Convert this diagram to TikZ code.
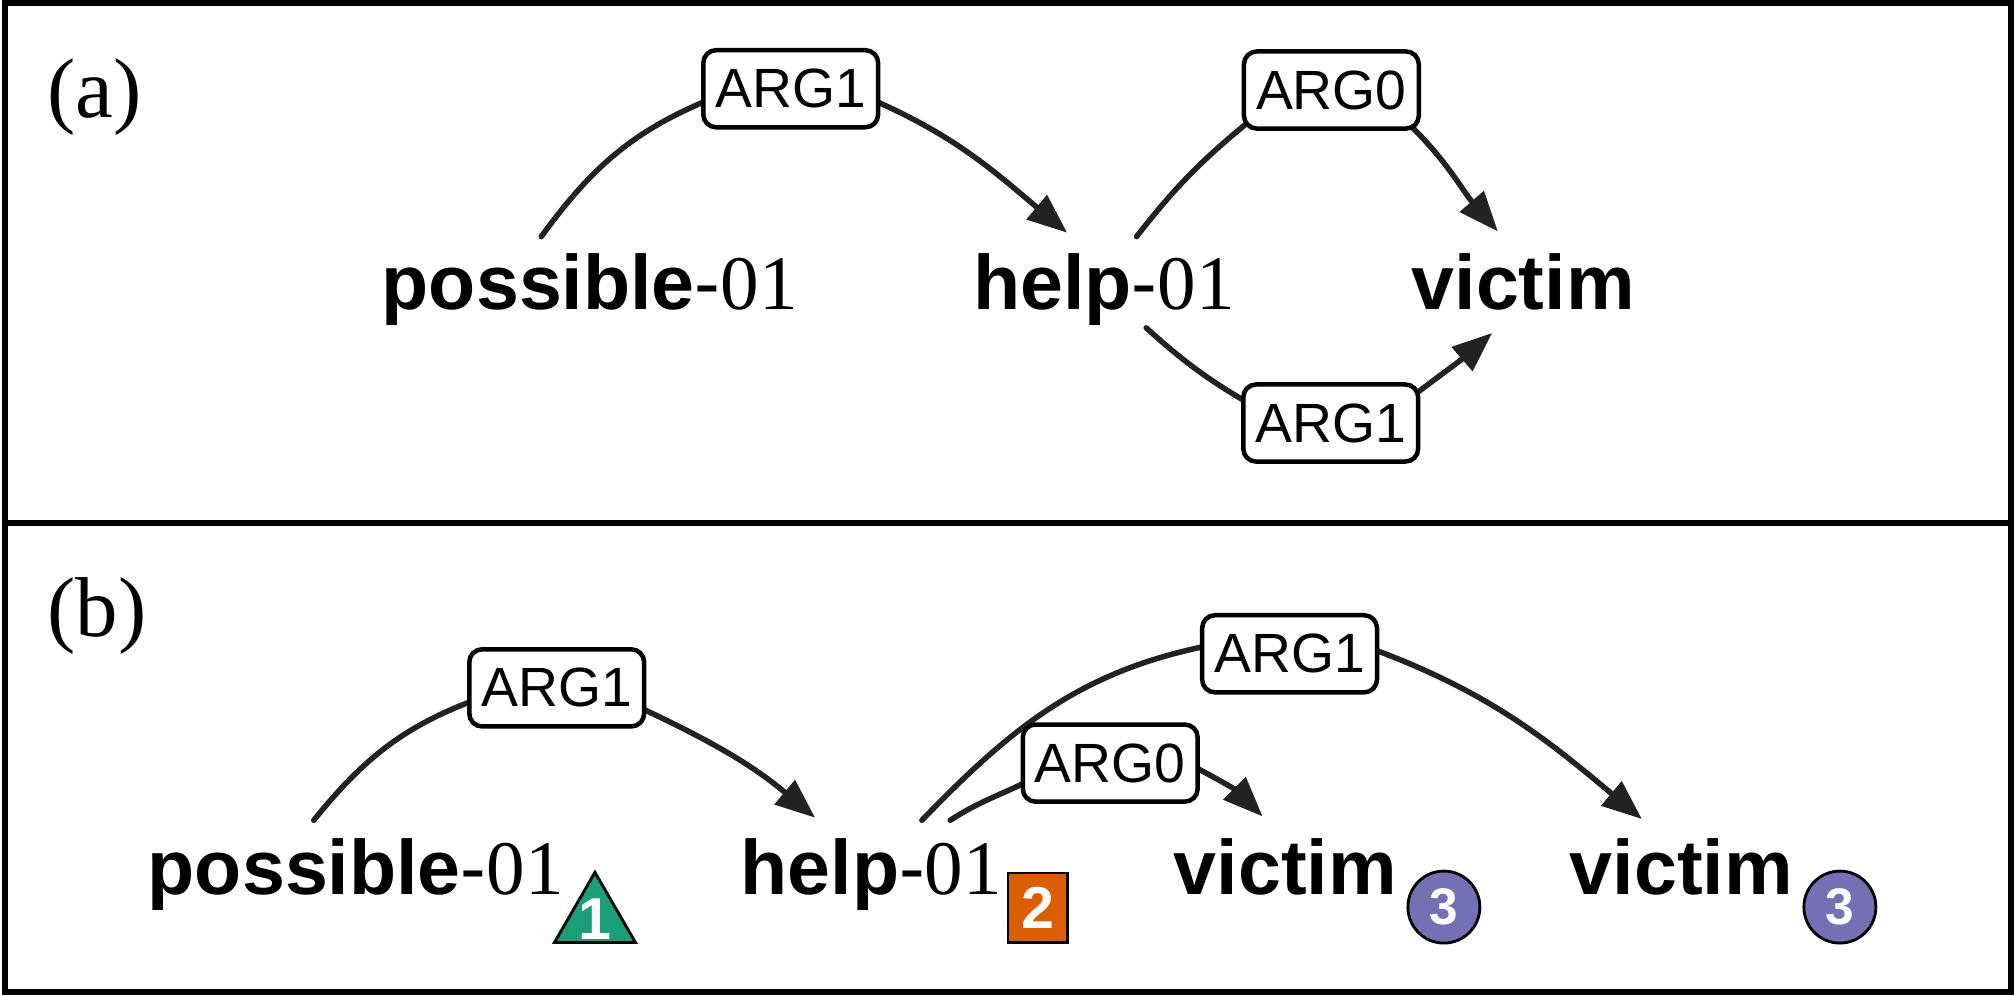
\documentclass[tikz,border=0pt]{standalone}
\usepackage{fontspec}
\setmainfont{Liberation Serif}
\setsansfont{Liberation Sans}
\usetikzlibrary{arrows.meta,shapes.geometric,backgrounds}
\definecolor{edgecol}{HTML}{222222}
\definecolor{dgreen}{HTML}{1B9E77}
\definecolor{dorange}{HTML}{D95F02}
\definecolor{dpurple}{HTML}{7570B3}
\begin{document}
\begin{tikzpicture}[x=1pt,y=1pt,
  word/.style={inner sep=0pt, outer sep=0pt, anchor=base west, font=\fontsize{60}{72}\selectfont},
  panel/.style={inner sep=0pt, outer sep=0pt, anchor=base west, font=\fontsize{66}{72}\selectfont},
  argbox/.style={draw=black, line width=3.5pt, rounded corners=10pt, fill=white, minimum width=136pt, minimum height=60pt, inner sep=0pt, font=\sffamily\fontsize{43}{43}\selectfont},
  edge/.style={draw=edgecol, line width=4.3pt, line cap=round, -{Triangle[length=31pt,width=24pt]}},
  badge/.style={draw=black, line width=2.2pt, inner sep=0pt, text=white, font=\sffamily\bfseries\fontsize{46}{46}\selectfont},
]
\useasboundingbox (0,0) rectangle (1568,-774.6);
\draw[line width=4.5pt] (4,-2.5) rectangle (1564,-771.5);
\draw[line width=4.5pt] (4,-406.7) -- (1564,-406.7);

% ---------- panel (a)
\node[panel] (la) at (37,-91) {(a)};
\node[word] (pa) at (297,-241) {\textbf{\sffamily possible}{\sffamily -}01};
\node[word] (ha) at (757,-241) {\textbf{\sffamily help}{\sffamily -}01};
\node[word] (va) at (1098,-241) {\textbf{\sffamily victim}};
\node[argbox] (a1) at (615,-69) {ARG1};
\node[argbox] (a0) at (1035.5,-70) {ARG0};
\node[argbox] (a1l) at (1035,-329) {ARG1};

% ---------- panel (b)
\node[panel] (lb) at (37,-495) {(b)};
\node[word] (pb) at (115,-696) {\textbf{\sffamily possible}{\sffamily -}01};
\node[word] (hb) at (576,-696) {\textbf{\sffamily help}{\sffamily -}01};
\node[word] (vb1) at (913,-696) {\textbf{\sffamily victim}};
\node[word] (vb2) at (1221,-696) {\textbf{\sffamily victim}};
\node[argbox] (b1) at (433,-535) {ARG1};
\node[argbox] (b1r) at (1003,-508.5) {ARG1};
\node[argbox] (b0) at (863.5,-593.5) {ARG0};

\node[badge, fill=dgreen, regular polygon, regular polygon sides=3, minimum size=72.7pt, inner sep=-14pt] (g1) at (462.75,-714.8) {1};
\node[badge, fill=dorange, rectangle, minimum width=46pt, minimum height=54pt] (o2) at (807,-706) {2};
\node[badge, fill=dpurple, circle, minimum size=56pt, font=\sffamily\bfseries\fontsize{40}{40}\selectfont] (p3a) at (1123,-705.5) {3};
\node[badge, fill=dpurple, circle, minimum size=56pt, font=\sffamily\bfseries\fontsize{40}{40}\selectfont] (p3b) at (1431,-705.5) {3};

\begin{pgfonlayer}{background}
\draw[edge] ([shift={(124,57)}]pa.base west) to[out=54,in=202] ([shift={(10,-7)}]a1.west)
            ([shift={(-10,-7)}]a1.east) to[out=-23,in=140] ([shift={(73,60)}]ha.base west);
\draw[edge] ([shift={(127,57)}]ha.base west) to[out=52,in=219] ([shift={(10,-21)}]a0.west)
            ([shift={(-10,-26)}]a0.east) to[out=-44,in=131] ([shift={(67,61)}]va.base west);
\draw[edge] ([shift={(134.5,-14)}]ha.base west) to[out=-42,in=150] ([shift={(10,13)}]a1l.west)
            ([shift={(-10,18)}]a1l.east) to[out=37,in=221] ([shift={(62.5,-18)}]va.base west);

\draw[edge] ([shift={(129,58)}]pb.base west) to[out=51,in=200] ([shift={(10,-8)}]b1.west)
            ([shift={(-10,-13)}]b1.east) to[out=-25,in=140] ([shift={(58,60)}]hb.base west);
\draw[edge] ([shift={(141,58)}]hb.base west) to[out=46,in=191] ([shift={(10,7)}]b1r.west)
            ([shift={(-10,5.5)}]b1r.east) to[out=-20,in=140] ([shift={(56,59)}]vb2.base west);
\draw[edge] ([shift={(163,58)}]hb.base west) to[out=33,in=207] ([shift={(10,-12)}]b0.west)
            ([shift={(-10,0)}]b0.east) to[out=-27,in=135] ([shift={(69,61)}]vb1.base west);
\end{pgfonlayer}
\end{tikzpicture}
\end{document}
